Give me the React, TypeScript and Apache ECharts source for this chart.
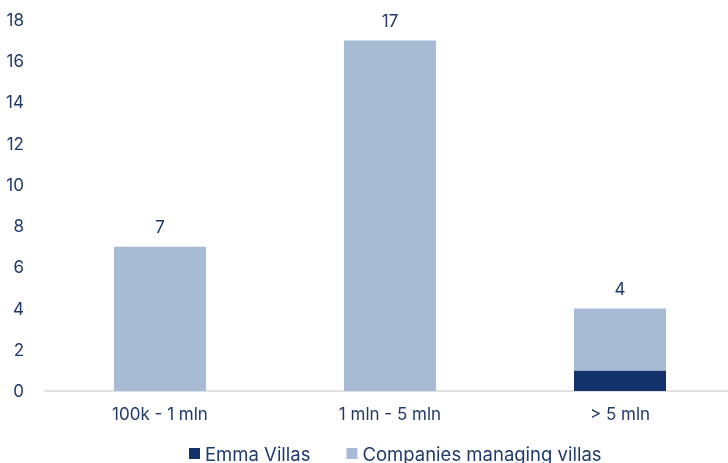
import React, { useEffect, useRef } from "react";
import * as echarts from "echarts";

const categories = ["100k - 1 mln", "1 mln - 5 mln", "> 5 mln"];
const emmaVillas = [0, 0, 1];
const companies = [7, 17, 3];
const totals = [7, 17, 4];

const TEXT = "#1F3A6B";
const LIGHT = "#A7BBD4";
const DARK = "#14326B";
const FONT = "Inter";
const FS = 17;

export default function App() {
  const ref = useRef<HTMLDivElement>(null);
  useEffect(() => {
    if (!ref.current) return;
    const chart = echarts.init(ref.current, undefined, { renderer: "svg" });
    chart.setOption({
      animation: false,
      textStyle: { fontFamily: FONT, color: TEXT },
      grid: { left: 45, right: 0, top: 20, bottom: 72, containLabel: false },
      legend: {
        top: 444,
        left: 189,
        padding: 0,
        itemWidth: 11,
        itemHeight: 11,
        itemGap: 36,
        icon: "rect",
        textStyle: { fontFamily: FONT, fontSize: 18.5, lineHeight: 18, color: TEXT },
        data: ["Emma Villas", "Companies managing villas"],
      },
      xAxis: {
        type: "category",
        data: categories,
        axisLine: { lineStyle: { color: "#D9D9D9", width: 1.5 } },
        axisTick: { show: false },
        axisLabel: { fontFamily: FONT, fontSize: FS, color: TEXT, margin: 14 },
      },
      yAxis: {
        type: "value",
        min: 0,
        max: 18,
        interval: 2,
        splitLine: { show: false },
        axisLine: { show: false },
        axisTick: { show: false },
        axisLabel: { fontFamily: FONT, fontSize: FS, color: TEXT, margin: 21 },
      },
      series: [
        {
          name: "Emma Villas",
          type: "bar",
          stack: "total",
          data: emmaVillas,
          barWidth: "40%",
          itemStyle: { color: DARK },
        },
        {
          name: "Companies managing villas",
          type: "bar",
          stack: "total",
          data: companies,
          barWidth: "40%",
          itemStyle: { color: LIGHT },
          label: {
            show: true,
            position: "top",
            distance: 11,
            fontFamily: FONT,
            fontSize: FS,
            color: TEXT,
            formatter: (p: any) => String(totals[p.dataIndex]),
          },
        },
      ],
    });
    return () => chart.dispose();
  }, []);
  return (
    <div
      style={{
        position: "fixed",
        left: 0,
        top: 0,
        width: 728,
        height: 463,
        overflow: "hidden",
      }}
    >
      <div ref={ref} style={{ width: 735, height: 463 }} />
    </div>
  );
}
